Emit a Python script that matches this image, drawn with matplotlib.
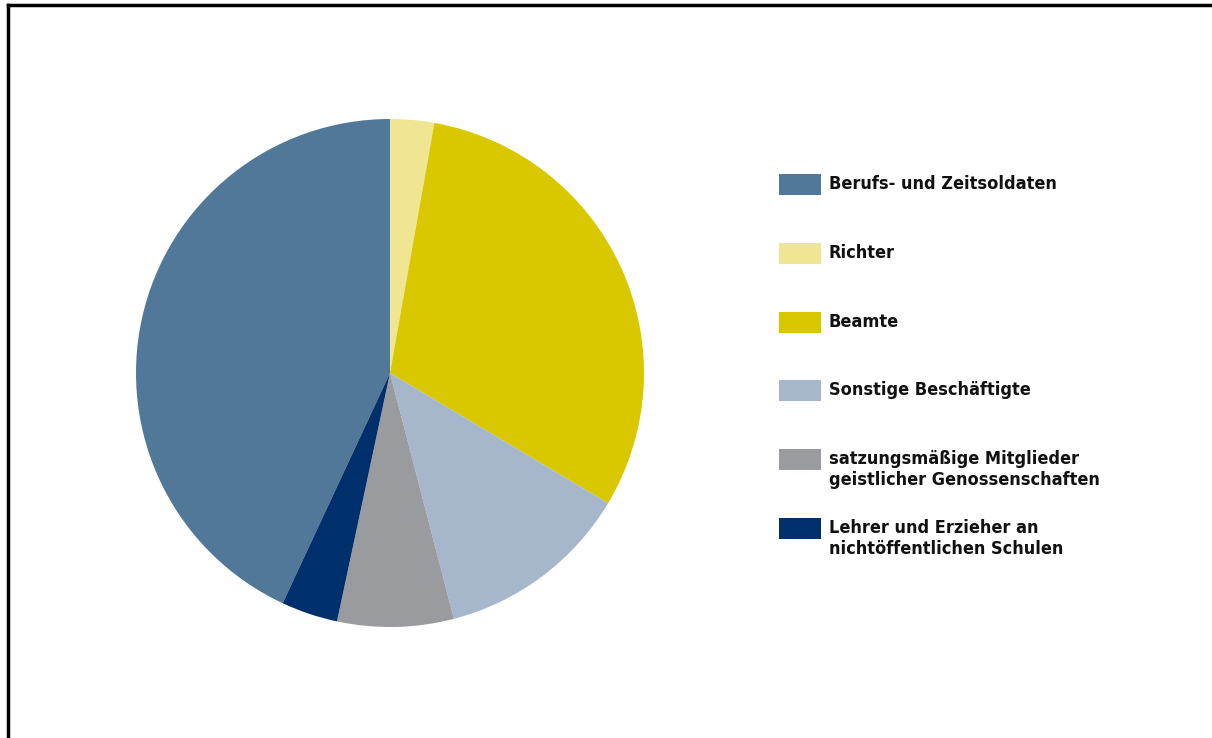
import matplotlib.pyplot as plt
from matplotlib.patches import Rectangle
from matplotlib.lines import Line2D

plt.rcParams['font.family'] = ['DejaVu Sans']

# Data (legend order)
labels = [
    "Berufs- und Zeitsoldaten",
    "Richter",
    "Beamte",
    "Sonstige Beschäftigte",
    "satzungsmäßige Mitglieder\ngeistlicher Genossenschaften",
    "Lehrer und Erzieher an\nnichtöffentlichen Schulen",
]
shares = [43.1, 2.8, 30.8, 12.4, 7.4, 3.6]
colors = ["#517799", "#EFE593", "#D9C800", "#A6B7CC", "#9A9B9F", "#00306B"]

W, H = 1212, 738
fig = plt.figure(figsize=(W / 100, H / 100), dpi=100)

# pie placement (pixel based)
cx, cy, r = 390, 373, 254
ax = fig.add_axes([(cx - r) / W, 1 - (cy + r) / H, 2 * r / W, 2 * r / H])

# Berufs wedge should end at 12 o'clock, rest follow clockwise
start = 90 + 360 * shares[0] / sum(shares)
ax.pie(shares, colors=colors, startangle=start, counterclock=False,
       wedgeprops=dict(linewidth=0))
ax.set_xlim(-1, 1)
ax.set_ylim(-1, 1)
ax.set_aspect("equal")
ax.set_axis_off()

# manual legend
row_y = [184, 253, 322, 390, 459, 528]
for lab, col, y in zip(labels, colors, row_y):
    fig.patches.append(Rectangle((779 / W, 1 - (y + 10.5) / H), 42 / W, 21 / H,
                                 transform=fig.transFigure, facecolor=col,
                                 edgecolor="none"))
    fig.text(829 / W, 1 - (y - 9) / H, lab, fontsize=13, fontweight="bold",
             fontstretch="condensed", va="top", ha="left", color="#111111",
             linespacing=1.2)

# frame lines (top and left)
fig.lines.append(Line2D([8 / W, 1], [1 - 5 / H, 1 - 5 / H], transform=fig.transFigure,
                        color="black", linewidth=2.5))
fig.lines.append(Line2D([8 / W, 8 / W], [0, 1 - 5 / H], transform=fig.transFigure,
                        color="black", linewidth=2.5))

fig.savefig("out.png", dpi=100, facecolor="white")
